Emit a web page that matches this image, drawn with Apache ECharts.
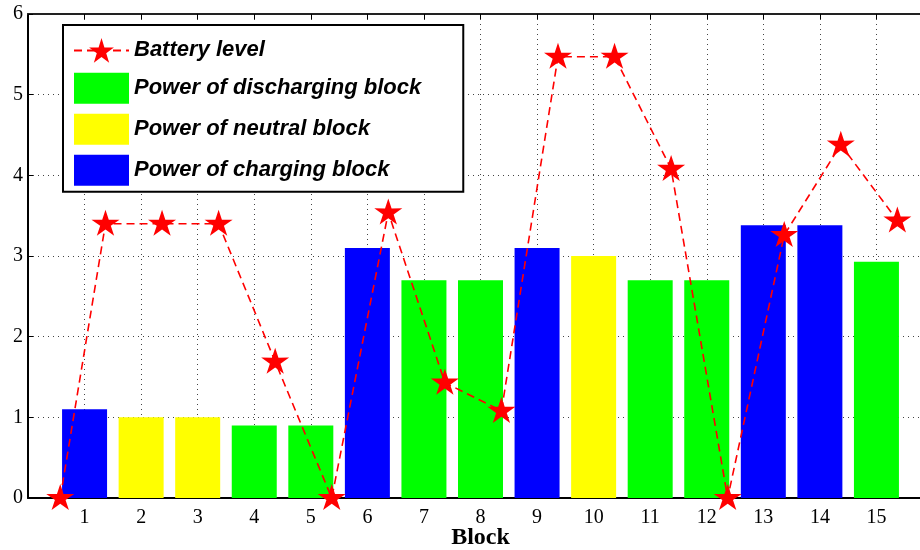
<!DOCTYPE html>
<html>
<head>
<meta charset="utf-8">
<script src="https://cdn.jsdelivr.net/npm/echarts@6/dist/echarts.min.js"></script>
<style>html,body{margin:0;padding:0;background:#fff;}#c{width:920px;height:550px;}</style>
</head>
<body>
<div id="c"></div>
<script>
// ---- data ----
var blocks = [1,2,3,4,5,6,7,8,9,10,11,12,13,14,15];
var blockPower = [1.1,1.0,1.0,0.9,0.9,3.1,2.7,2.7,3.1,3.0,2.7,2.7,3.38,3.38,2.93];
var blockType = ['charging','neutral','neutral','discharging','discharging','charging','discharging','discharging','charging','neutral','discharging','discharging','charging','charging','discharging'];
var batteryX = [0.57,1.37,2.37,3.37,4.37,5.37,6.37,7.37,8.37,9.37,10.37,11.37,12.37,13.37,14.37,15.37];
var batteryLevel = [0,3.40,3.40,3.40,1.69,0,3.54,1.43,1.08,5.47,5.47,4.08,0,3.26,4.38,3.44];
var yTicks = [0,1,2,3,4,5,6];
var names = {
  battery: 'Battery level',
  discharging: 'Power of discharging block',
  neutral: 'Power of neutral block',
  charging: 'Power of charging block'
};

var STAR = 'path://M50 0 L61.17 34.63 L97.55 34.55 L68.07 55.87 L79.39 90.45 L50 69 L20.61 90.45 L31.93 55.87 L2.45 34.55 L38.83 34.63 Z';

function barData(type) {
  return blocks.map(function (b, i) {
    return blockType[i] === type ? [b, blockPower[i]] : [b, null];
  });
}
var colors = { discharging: '#00ff00', neutral: '#ffff00', charging: '#0000ff' };

function barSeries(type) {
  return {
    name: names[type],
    type: 'bar',
    xAxisIndex: 0,
    data: barData(type),
    barWidth: 45,
    barGap: '-100%',
    itemStyle: { color: colors[type] },
    z: 2
  };
}

var serif = 'Liberation Serif';
var chart = echarts.init(document.getElementById('c'), null, { renderer: 'canvas' });
chart.setOption({
  animation: false,
  backgroundColor: '#fff',
  grid: { left: 28, top: 14, width: 905, height: 484, outerBoundsMode: 'none', containLabel: false },
  legend: {
    orient: 'vertical',
    left: 63,
    top: 25,
    padding: [13, 42, 6, 10],
    itemWidth: 55,
    itemHeight: 31,
    itemGap: 10,
    backgroundColor: '#fff',
    borderColor: '#000',
    borderWidth: 2,
    borderRadius: 0,
    textStyle: { fontFamily: 'Liberation Sans', fontWeight: 'bold', fontStyle: 'italic', fontSize: 22, color: '#000' },
    data: [
      { name: names.battery },
      { name: names.discharging, icon: 'rect' },
      { name: names.neutral, icon: 'rect' },
      { name: names.charging, icon: 'rect' }
    ]
  },
  xAxis: [{
    type: 'value',
    min: 0, max: 16, interval: 1,
    position: 'bottom',
    name: 'Block',
    nameLocation: 'middle',
    nameGap: 28,
    nameMoveOverlap: false,
    nameTextStyle: { fontFamily: serif, fontWeight: 'bold', fontSize: 24, color: '#000' },
    axisLine: { onZero: false, lineStyle: { color: '#000', width: 2 } },
    axisTick: { inside: true, length: 5, lineStyle: { color: '#000' } },
    axisLabel: {
      fontFamily: serif, fontSize: 20, color: '#000', margin: 10,
      formatter: function (v) { return blocks.indexOf(v) >= 0 ? String(v) : ''; }
    },
    splitLine: { show: true, lineStyle: { color: '#444', type: [1, 4], width: 1 } }
  }, {
    type: 'value',
    min: 0, max: 16, interval: 1,
    position: 'top',
    axisLine: { onZero: false, lineStyle: { color: '#222', width: 2 } },
    axisTick: { inside: true, length: 5, lineStyle: { color: '#000' } },
    axisLabel: { show: false },
    splitLine: { show: false }
  }],
  yAxis: {
    type: 'value',
    min: 0, max: 6, interval: 1,
    axisLine: { show: true, lineStyle: { color: '#000', width: 2 } },
    axisTick: { show: true, inside: true, length: 5, lineStyle: { color: '#000' } },
    axisLabel: {
      fontFamily: serif, fontSize: 20, color: '#000', margin: 5,
      formatter: function (v) { return yTicks.indexOf(v) >= 0 ? String(v) : ''; }
    },
    splitLine: { show: true, lineStyle: { color: '#444', type: [1, 4], width: 1 } }
  },
  series: [
    {
      name: names.battery,
      type: 'line',
      xAxisIndex: 0,
      data: batteryX.map(function (x, i) { return [x, batteryLevel[i]]; }),
      symbol: STAR,
      symbolSize: [28, 26],
      symbolOffset: [0, -1],
      showAllSymbol: true,
      clip: false,
      lineStyle: { color: '#ff0000', width: 1.6, type: [8, 5] },
      itemStyle: { color: '#ff0000' },
      z: 5
    },
    barSeries('discharging'),
    barSeries('neutral'),
    barSeries('charging')
  ]
});
</script>
</body>
</html>
